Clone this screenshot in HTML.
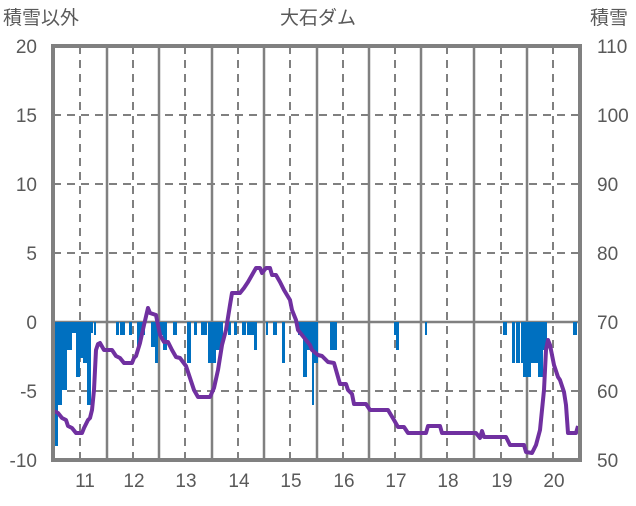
<!DOCTYPE html><html><head><meta charset="utf-8"><style>body{margin:0;background:#fff}svg text{font-family:"Liberation Sans","Noto Sans CJK JP",sans-serif;fill:#595959;font-size:19px}</style></head><body>
<svg width="636" height="501" xmlns="http://www.w3.org/2000/svg">
<g stroke="#808080" stroke-width="2" stroke-dasharray="8,6">
<line x1="53" y1="115" x2="580" y2="115"/><line x1="53" y1="184" x2="580" y2="184"/><line x1="53" y1="253" x2="580" y2="253"/><line x1="53" y1="391" x2="580" y2="391"/>
<line x1="80" y1="46" x2="80" y2="460"/><line x1="133" y1="46" x2="133" y2="460"/><line x1="185" y1="46" x2="185" y2="460"/><line x1="238" y1="46" x2="238" y2="460"/><line x1="290" y1="46" x2="290" y2="460"/><line x1="343" y1="46" x2="343" y2="460"/><line x1="395" y1="46" x2="395" y2="460"/><line x1="447" y1="46" x2="447" y2="460"/><line x1="501" y1="46" x2="501" y2="460"/><line x1="553" y1="46" x2="553" y2="460"/>
</g>
<g stroke="#808080" stroke-width="2.5">
<line x1="107" y1="46" x2="107" y2="460"/><line x1="159" y1="46" x2="159" y2="460"/><line x1="212" y1="46" x2="212" y2="460"/><line x1="264" y1="46" x2="264" y2="460"/><line x1="317" y1="46" x2="317" y2="460"/><line x1="369" y1="46" x2="369" y2="460"/><line x1="421" y1="46" x2="421" y2="460"/><line x1="474" y1="46" x2="474" y2="460"/><line x1="527" y1="46" x2="527" y2="460"/>
<line x1="53" y1="322" x2="580" y2="322"/>
</g>
<g fill="#0070C0">
<rect x="54" y="322" width="4" height="124"/><rect x="58" y="322" width="4" height="83"/><rect x="62" y="322" width="5" height="68"/><rect x="67" y="322" width="5" height="28"/><rect x="72" y="322" width="4" height="11"/><rect x="76" y="322" width="4" height="55"/><rect x="80" y="322" width="3" height="36"/><rect x="83" y="322" width="4" height="41"/><rect x="87" y="322" width="4" height="83"/><rect x="91" y="322" width="2" height="11"/><rect x="94" y="322" width="2" height="13"/>
<rect x="116" y="322" width="3" height="13"/><rect x="120" y="322" width="5" height="13"/><rect x="129" y="322" width="3" height="13"/><rect x="137" y="322" width="3" height="28"/><rect x="140" y="322" width="5" height="13"/><rect x="151" y="322" width="4" height="25"/><rect x="155" y="322" width="3" height="41"/><rect x="158" y="322" width="5" height="13"/><rect x="163" y="322" width="4" height="28"/><rect x="173" y="322" width="4" height="13"/><rect x="187" y="322" width="4" height="41"/><rect x="194" y="322" width="3" height="13"/><rect x="201" y="322" width="6" height="13"/><rect x="208" y="322" width="8" height="41"/><rect x="216" y="322" width="7" height="28"/><rect x="228" y="322" width="3" height="13"/><rect x="234" y="322" width="3" height="13"/><rect x="242" y="322" width="4" height="13"/><rect x="247" y="322" width="7" height="13"/><rect x="254" y="322" width="3" height="28"/><rect x="266" y="322" width="2" height="13"/><rect x="273" y="322" width="4" height="13"/><rect x="282" y="322" width="3" height="41"/><rect x="298" y="322" width="5" height="13"/><rect x="303" y="322" width="4" height="55"/><rect x="307" y="322" width="5" height="28"/><rect x="312" y="322" width="2" height="83"/><rect x="314" y="322" width="4" height="41"/><rect x="330" y="322" width="7" height="28"/>
<rect x="394" y="322" width="3" height="13"/><rect x="396" y="322" width="3" height="28"/><rect x="425" y="322" width="2" height="13"/><rect x="503" y="322" width="4" height="13"/><rect x="512" y="322" width="3" height="41"/><rect x="516" y="322" width="4" height="41"/><rect x="521" y="322" width="2" height="41"/><rect x="523" y="322" width="8" height="55"/><rect x="531" y="322" width="7" height="41"/><rect x="538" y="322" width="5" height="55"/><rect x="543" y="322" width="4" height="28"/><rect x="573" y="322" width="4" height="13"/>
</g>
<polyline fill="none" stroke="#7030A0" stroke-width="4" stroke-linejoin="round" points="54,411 58,413 62,418 66,420 68,426 72,428 76,433 82,433 84,428 88,420 90,418 92,410 94,390 96,350 98,344 100,343 104,350 112,350 116,356 120,358 124,363 132,363 134,358 136,356 140,343 144,325 148,308 150,313 156,315 160,335 164,342 168,342 172,350 176,357 180,358 186,366 194,390 198,397 210,397 214,388 218,370 222,345 226,330 230,305 232,293 240,293 244,288 248,282 252,275 256,268 260,268 262,273 266,268 270,268 272,275 276,275 280,282 284,290 290,300 292,310 296,320 298,330 302,335 306,340 310,345 312,350 318,355 322,356 324,358 328,362 334,363 336,370 340,384 346,384 348,390 352,394 354,404 366,404 370,410 388,410 394,420 398,427 404,427 408,433 426,433 428,426 440,426 442,433 476,433 480,438 482,431 484,437 506,437 510,445 524,445 526,452 532,453 536,445 540,430 544,390 546,350 548,340 550,345 552,355 554,365 558,377 560,380 564,392 566,405 568,433 576,433 578,426"/>
<rect x="53" y="46" width="527" height="414" fill="none" stroke="#808080" stroke-width="4"/>
<g text-anchor="end"><text x="37" y="53">20</text><text x="37" y="122">15</text><text x="37" y="191">10</text><text x="37" y="260">5</text><text x="37" y="329">0</text><text x="37" y="398">-5</text><text x="37" y="467">-10</text></g>
<g text-anchor="start"><text x="597" y="53">110</text><text x="597" y="122">100</text><text x="597" y="191">90</text><text x="597" y="260">80</text><text x="597" y="329">70</text><text x="597" y="398">60</text><text x="597" y="467">50</text></g>
<g text-anchor="middle"><text x="85" y="487">11</text><text x="134" y="487">12</text><text x="186" y="487">13</text><text x="239" y="487">14</text><text x="291" y="487">15</text><text x="344" y="487">16</text><text x="396" y="487">17</text><text x="448" y="487">18</text><text x="502" y="487">19</text><text x="554" y="487">20</text>
<text x="318" y="24">大石ダム</text></g>
<text x="3" y="24">積雪以外</text><text x="590" y="24">積雪</text>
</svg></body></html>
